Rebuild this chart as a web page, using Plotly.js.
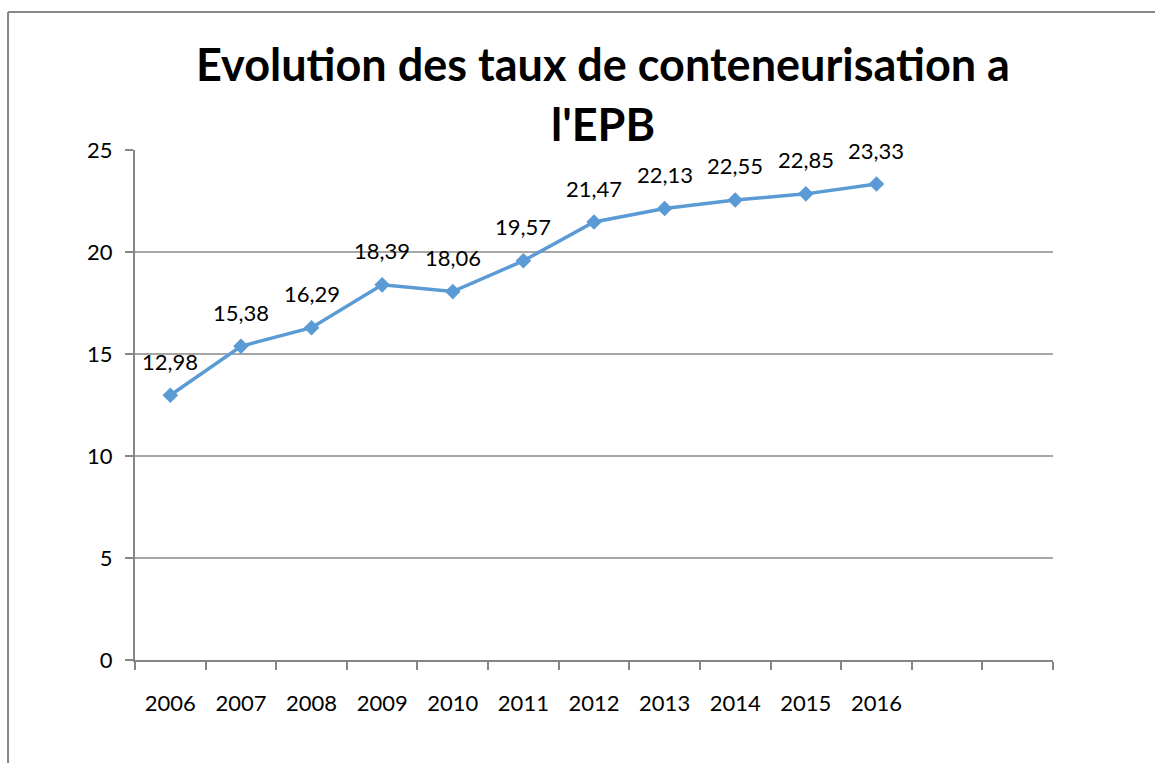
<!DOCTYPE html>
<html>
<head>
<meta charset="utf-8">
<script src="https://cdn.plot.ly/plotly-3.0.1.min.js"></script>
<style>
html,body{margin:0;padding:0;background:#fff;}
#chart{width:1155px;height:763px;}
</style>
</head>
<body>
<div id="chart"></div>
<script>
const years = ["2006","2007","2008","2009","2010","2011","2012","2013","2014","2015","2016"];
const rates = [12.98, 15.38, 16.29, 18.39, 18.06, 19.57, 21.47, 22.13, 22.55, 22.85, 23.33];
const labels = ["12,98","15,38","16,29","18,39","18,06","19,57","21,47","22,13","22,55","22,85","23,33"];
const emptySlots = [" ", "  "];
const allCategories = years.concat(emptySlots);
const titleLines = ["Evolution des taux de conteneurisation a", "l'EPB"];

const fontFam = "Lato, 'Open Sans', sans-serif";

const trace = {
  x: years,
  y: rates,
  type: "scatter",
  mode: "lines+markers",
  line: {color: "#5b9bd5", width: 3.5},
  marker: {symbol: "diamond", size: 12, color: "#5b9bd5"},
  hoverinfo: "skip",
  showlegend: false
};

const annotations = years.map((yr, i) => ({
  x: i, y: rates[i], xref: "x", yref: "y",
  text: labels[i], showarrow: false, yshift: 34,
  xanchor: "center", yanchor: "middle",
  font: {family: fontFam, size: 22, color: "#000000"}
}));

titleLines.forEach((t, k) => {
  annotations.push({
    x: 0.51, y: k === 0 ? 1.168 : 1.05, xref: "paper", yref: "paper",
    text: "<b>" + t + "</b>", showarrow: false,
    xanchor: "center", yanchor: "middle",
    font: {family: fontFam, size: 45, color: "#000000"}
  });
});

const layout = {
  width: 1155, height: 763,
  margin: {l: 135, r: 102, t: 150, b: 103},
  paper_bgcolor: "#fff", plot_bgcolor: "#fff",
  xaxis: {
    type: "category",
    categoryorder: "array",
    categoryarray: allCategories,
    range: [-0.5, allCategories.length - 0.5],
    tickson: "boundaries",
    ticks: "outside", ticklen: 8, tickwidth: 2, tickcolor: "#868686",
    showline: true, linecolor: "#868686", linewidth: 2,
    showgrid: false, zeroline: false,
    tickfont: {family: fontFam, size: 22, color: "#000"},
    ticklabelstandoff: 23,
    fixedrange: true
  },
  yaxis: {
    range: [0, 25], dtick: 5, tick0: 0,
    ticks: "outside", ticklen: 8, tickwidth: 2, tickcolor: "#868686",
    showline: true, linecolor: "#868686", linewidth: 2,
    showgrid: true, gridcolor: "#a6a6a6", gridwidth: 2,
    zeroline: false,
    tickfont: {family: fontFam, size: 22, color: "#000"},
    ticklabelstandoff: 8,
    fixedrange: true
  },
  annotations: annotations,
  shapes: [
    {type: "line", xref: "paper", yref: "paper", x0: -0.1383, x1: -0.1383, y0: 1.2706, y1: -0.4,
     line: {color: "#878787", width: 2}},
    {type: "line", xref: "paper", yref: "paper", x0: -0.1383, x1: 1.2, y0: 1.2706, y1: 1.2706,
     line: {color: "#878787", width: 2}}
  ]
};

Plotly.newPlot("chart", [trace], layout, {displayModeBar: false, staticPlot: true});
</script>
</body>
</html>
